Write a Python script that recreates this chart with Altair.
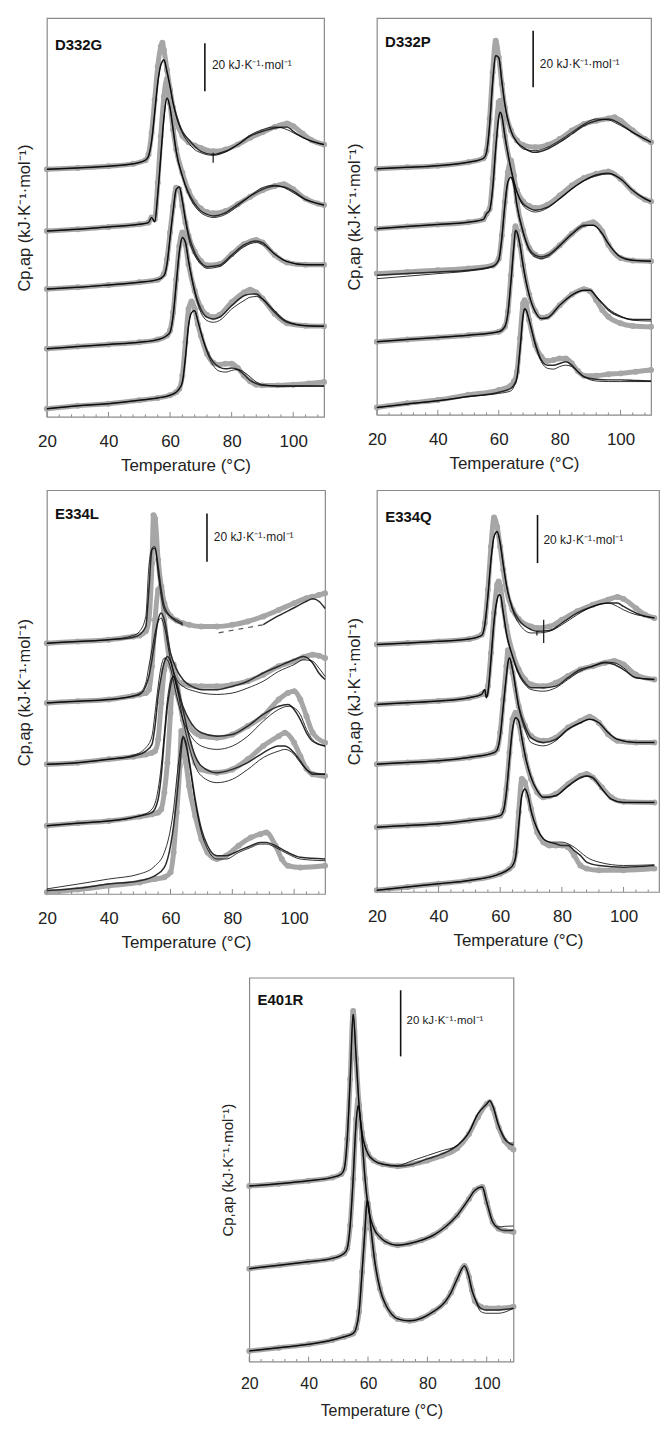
import altair as alt
import pandas as pd

# ---------------- D332G ----------------
D332G_T1 = [20, 30, 40, 48, 52, 53, 54, 55, 56, 57, 57.5, 58, 59, 60, 61, 62, 64, 66, 68, 70, 74, 78, 82, 86, 90, 94, 98, 100, 103, 106, 110]
D332G_E1 = [102.8, 103.4, 104.1, 105.1, 106.6, 109.0, 117.9, 131.7, 145.5, 153.8, 155.4, 152.4, 144.1, 135.9, 128.3, 122.8, 116.8, 114.1, 112.7, 111.7, 110.3, 111.0, 113.1, 115.9, 118.2, 120.4, 121.8, 120.7, 117.7, 114.9, 113.1]
D332G_F1 = [102.8, 103.4, 104.1, 105.1, 106.6, 108.3, 114.5, 126.2, 138.6, 146.2, 147.6, 148.3, 143.4, 137.2, 130.3, 125.5, 118.6, 115.2, 112.4, 110.3, 109.0, 110.3, 113.1, 116.6, 118.6, 120.0, 120.4, 118.6, 116.2, 114.5, 113.1]
D332G_G1 = [102.8, 103.4, 104.1, 105.1, 106.6, 108.3, 114.5, 126.2, 138.6, 146.2, 147.6, 148.3, 143.4, 137.2, 130.3, 124.8, 117.9, 113.8, 111.0, 109.7, 108.6, 110.0, 113.1, 117.0, 119.3, 120.4, 119.3, 118.0, 116.0, 114.5, 113.1]

D332G_T2 = [20, 30, 40, 50, 53, 54, 55, 56, 57, 58, 59, 60, 61, 62, 64, 66, 68, 70, 72, 74, 78, 82, 86, 90, 94, 97, 100, 104, 108, 110]
D332G_E2 = [77.2, 77.9, 78.9, 80.0, 80.7, 82.8, 82.1, 97.2, 116.6, 133.1, 140.3, 130.3, 119.3, 111.0, 101.4, 93.8, 89.2, 86.5, 85.1, 84.6, 85.5, 88.3, 91.4, 94.1, 95.9, 96.6, 94.5, 90.6, 88.6, 88.0]
D332G_F2 = [77.2, 77.9, 78.9, 80.0, 80.7, 82.8, 81.0, 92.4, 108.3, 124.1, 132.4, 128.3, 119.3, 110.3, 100.0, 93.1, 88.6, 85.5, 84.1, 83.4, 84.8, 88.3, 91.7, 94.5, 95.9, 95.5, 93.8, 90.3, 88.6, 88.0]
D332G_G2 = [77.2, 77.9, 78.9, 80.0, 80.7, 82.8, 81.0, 92.4, 108.3, 124.1, 132.4, 128.3, 119.3, 110.3, 100.0, 92.4, 87.6, 84.8, 83.4, 82.8, 84.1, 87.6, 91.7, 95.2, 96.2, 95.2, 93.1, 90.3, 88.6, 88.0]

D332G_T3 = [20, 30, 40, 50, 56, 58, 59, 60, 61, 62, 63, 64, 65, 66, 68, 70, 72, 76, 80, 84, 88, 90, 94, 98, 104, 110]
D332G_E3 = [53.1, 53.8, 54.8, 55.9, 57.0, 59.3, 65.5, 76.6, 87.6, 95.2, 94.5, 87.6, 80.7, 75.2, 68.6, 64.8, 63.0, 63.4, 67.6, 71.7, 73.5, 72.4, 67.2, 64.1, 63.2, 63.2]
D332G_F3 = [53.1, 53.8, 54.8, 55.9, 57.0, 58.6, 63.4, 74.5, 85.5, 94.5, 95.5, 89.7, 82.1, 75.9, 68.3, 64.1, 62.4, 63.0, 67.2, 71.4, 73.1, 72.4, 67.6, 64.5, 63.2, 63.2]
D332G_G3 = [53.1, 53.8, 54.8, 55.9, 57.0, 58.6, 63.4, 74.5, 85.5, 94.5, 95.5, 89.7, 81.4, 74.5, 67.2, 63.4, 61.7, 62.4, 66.5, 70.7, 72.4, 71.7, 67.6, 64.5, 63.2, 63.2]

D332G_T4 = [20, 30, 40, 50, 56, 59, 60, 61, 62, 63, 64, 65, 66, 68, 70, 72, 74, 76, 80, 84, 86, 88, 90, 94, 98, 104, 110]
D332G_E4 = [28.3, 29.2, 30.1, 31.0, 32.1, 33.8, 35.9, 43.4, 57.2, 71.0, 76.6, 71.7, 63.4, 52.4, 45.5, 42.3, 41.4, 42.3, 47.6, 51.7, 52.8, 51.7, 49.2, 42.8, 38.9, 37.9, 37.7]
D332G_F4 = [28.3, 29.2, 30.1, 31.0, 32.1, 33.8, 35.2, 42.1, 55.2, 68.3, 74.5, 72.4, 64.8, 52.4, 44.8, 41.4, 40.7, 41.4, 46.2, 50.3, 51.0, 51.0, 49.0, 43.4, 39.3, 37.9, 37.7]
D332G_G4 = [28.3, 29.2, 30.1, 31.0, 32.1, 33.8, 35.2, 42.1, 55.2, 68.3, 74.5, 72.4, 64.8, 51.7, 43.4, 40.0, 39.3, 40.0, 44.8, 48.3, 49.7, 50.0, 49.0, 44.1, 39.7, 37.9, 37.7]

D332G_T5 = [20, 30, 40, 50, 56, 60, 62, 63, 64, 65, 66, 67, 68, 69, 70, 72, 74, 76, 78, 80, 82, 84, 86, 88, 90, 95, 100, 105, 110]
D332G_E5 = [3.4, 4.6, 5.5, 6.9, 7.9, 9.0, 10.3, 11.7, 17.2, 31.0, 44.8, 47.9, 44.8, 38.6, 33.8, 26.2, 22.5, 21.7, 22.1, 22.1, 20.3, 17.2, 14.8, 13.4, 13.1, 13.1, 13.4, 13.9, 14.5]
D332G_F5 = [3.4, 4.6, 5.5, 6.9, 7.9, 9.0, 10.3, 11.7, 14.5, 24.8, 37.9, 43.4, 44.1, 40.0, 35.2, 27.6, 22.8, 20.7, 20.0, 20.3, 19.7, 17.6, 15.2, 13.8, 13.1, 12.8, 12.8, 12.8, 12.8]
D332G_G5 = [3.4, 4.6, 5.5, 6.9, 7.9, 9.0, 10.3, 11.7, 14.5, 24.8, 37.9, 43.4, 44.1, 40.0, 35.2, 26.9, 21.4, 19.0, 18.6, 19.3, 19.7, 18.6, 16.6, 14.5, 13.4, 12.8, 12.8, 12.8, 12.8]

# ---------------- D332P ----------------
D332P_T1 = [20, 30, 40, 50, 55, 56, 57, 58, 59, 60, 61, 62, 64, 66, 68, 72, 76, 80, 84, 88, 92, 96, 98, 100, 104, 108, 110]
D332P_E1 = [87.1, 87.6, 88.2, 89.4, 90.8, 93.5, 104.7, 121.2, 132.4, 126.5, 117.1, 108.8, 100.6, 97.1, 95.5, 94.7, 95.5, 97.6, 100.6, 102.9, 104.1, 104.9, 105.3, 104.1, 100.6, 97.6, 96.5]
D332P_F1 = [87.1, 87.6, 88.2, 89.4, 90.8, 93.0, 102.4, 117.6, 127.1, 126.5, 118.2, 110.0, 100.6, 96.5, 94.7, 92.9, 94.1, 96.5, 99.4, 102.4, 104.1, 104.7, 104.1, 102.9, 100.0, 97.6, 96.5]
D332P_G1 = [87.1, 87.6, 88.2, 89.4, 90.8, 93.0, 102.4, 117.6, 127.1, 126.5, 118.2, 110.0, 100.6, 96.5, 94.1, 93.5, 94.7, 97.1, 100.0, 102.9, 104.7, 104.4, 103.5, 102.4, 100.0, 97.6, 96.5]

D332P_T2 = [20, 30, 40, 50, 55, 56, 57, 58, 59, 60, 60.5, 61, 62, 64, 66, 68, 70, 72, 76, 80, 84, 88, 92, 96, 100, 104, 108, 110]
D332P_E2 = [65.9, 66.7, 67.4, 68.2, 69.2, 71.2, 72.9, 83.5, 98.8, 110.6, 111.2, 107.1, 98.8, 87.6, 79.4, 75.5, 73.9, 73.2, 74.4, 77.6, 81.2, 83.8, 85.3, 86.1, 83.5, 79.1, 76.2, 75.5]
D332P_F2 = [65.9, 66.7, 67.4, 68.2, 69.2, 71.2, 72.4, 80.0, 94.1, 105.3, 107.1, 105.9, 98.8, 87.1, 78.8, 74.7, 73.2, 72.4, 73.5, 76.5, 80.0, 82.9, 84.7, 85.3, 83.5, 79.4, 76.5, 75.5]
D332P_G2 = [65.9, 66.7, 67.4, 68.2, 69.2, 71.2, 72.4, 80.0, 94.1, 105.3, 107.1, 105.9, 98.8, 87.1, 78.8, 74.1, 72.4, 71.8, 73.2, 76.5, 80.0, 82.9, 85.0, 85.6, 83.5, 79.4, 76.5, 75.5]

D332P_T3 = [20, 30, 40, 50, 58, 60, 61, 62, 63, 64, 65, 66, 68, 70, 72, 74, 76, 80, 84, 88, 91, 94, 96, 100, 104, 110]
D332P_E3 = [50.0, 50.6, 51.2, 51.8, 52.9, 55.3, 63.5, 75.3, 85.9, 90.0, 84.7, 75.3, 65.3, 59.1, 56.7, 55.9, 56.5, 60.0, 64.1, 67.3, 68.2, 64.9, 60.2, 55.5, 54.6, 54.4]
D332P_F3 = [49.4, 50.0, 50.6, 51.2, 52.6, 55.0, 62.4, 74.1, 82.4, 84.1, 81.2, 74.1, 64.7, 58.8, 56.5, 55.9, 56.5, 60.0, 64.1, 67.1, 67.1, 64.1, 60.6, 55.9, 54.7, 54.4]
D332P_G3 = [48.2, 49.1, 50.0, 50.9, 52.4, 54.7, 62.4, 74.1, 82.4, 84.1, 81.2, 74.1, 64.7, 58.2, 55.9, 55.3, 56.0, 59.6, 63.8, 66.8, 67.1, 64.1, 60.6, 55.9, 54.7, 54.4]

D332P_T4 = [20, 30, 40, 50, 60, 62, 63, 64, 65, 65.5, 66, 67, 68, 70, 72, 74, 76, 80, 84, 88, 90, 92, 94, 96, 100, 104, 110]
D332P_E4 = [25.9, 26.7, 27.4, 28.2, 29.4, 31.2, 36.5, 49.4, 63.5, 66.8, 65.3, 60.0, 52.9, 42.6, 36.7, 34.4, 34.7, 38.8, 42.6, 44.5, 43.8, 40.6, 37.1, 34.7, 32.4, 31.5, 31.2]
D332P_F4 = [25.9, 26.7, 27.4, 28.2, 29.4, 31.2, 35.9, 47.1, 60.0, 65.3, 64.7, 60.0, 52.9, 42.4, 36.5, 34.1, 34.4, 38.8, 42.4, 44.1, 44.1, 41.8, 39.4, 37.1, 34.7, 33.8, 33.8]
D332P_G4 = [25.9, 26.7, 27.4, 28.2, 29.4, 31.2, 35.9, 47.1, 60.0, 65.3, 64.7, 60.0, 52.9, 42.4, 36.5, 34.1, 34.4, 38.8, 42.4, 44.1, 44.1, 42.1, 39.7, 37.6, 35.0, 33.5, 33.2]

D332P_T5 = [20, 30, 40, 50, 60, 64, 65, 66, 67, 68, 68.5, 69, 70, 72, 74, 76, 78, 80, 82, 84, 86, 88, 92, 96, 100, 105, 110]
D332P_E5 = [2.6, 4.1, 5.3, 7.1, 8.8, 10.4, 11.8, 15.3, 27.1, 39.4, 40.6, 39.4, 33.5, 24.7, 20.6, 19.1, 19.4, 20.0, 20.0, 18.2, 15.5, 13.9, 13.9, 14.4, 14.7, 15.3, 15.9]
D332P_F5 = [2.6, 3.9, 5.0, 6.5, 8.0, 9.4, 10.6, 13.5, 23.5, 35.3, 37.6, 37.1, 33.5, 25.3, 19.4, 17.6, 17.6, 18.2, 18.8, 17.6, 15.3, 13.5, 12.6, 12.4, 12.4, 12.2, 12.0]
D332P_G5 = [2.6, 3.9, 5.0, 6.5, 7.6, 8.5, 10.0, 13.0, 23.0, 35.0, 37.6, 37.1, 33.5, 24.7, 18.8, 16.5, 16.2, 17.1, 17.6, 17.1, 15.3, 13.5, 12.0, 11.8, 11.8, 11.8, 11.8]

# ---------------- E334L ----------------
E334L_T1 = [20, 30, 40, 48, 50, 52, 53, 54, 54.5, 55, 56, 57, 58, 60, 62, 64, 66, 70, 75, 80, 85, 90, 95, 100, 104, 106, 108, 110]
E334L_E1 = [104.1, 104.8, 105.5, 106.9, 107.3, 109.0, 113.8, 137.2, 157.2, 155.9, 138.6, 127.6, 120.7, 115.4, 113.5, 112.4, 111.7, 111.0, 111.0, 111.7, 113.1, 115.2, 117.9, 120.7, 122.8, 123.4, 124.1, 124.8]
E334L_F1 = [104.1, 104.8, 105.5, 106.6, 107.6, 111.0, 126.2, 142.8, 143.4, 143.4, 135.9, 126.2, 119.3, 115.2, 113.1, 111.8, None, None, None, None, None, 111.8, 115.5, 118.8, 121.5, 122.5, 121.5, 118.5]
E334L_G1 = [104.1, 104.8, 105.5, 107.3, 109.0, 115.2, 135.9, 143.4, 144.1, 144.1, 133.1, 123.4, 117.9, 115.2, 113.8, 112.4, None, None, None, None, None, None, None, None, None, None, None, None]
E334L_DASH_T = [75.6, 90.2]
E334L_DASH_V = [108.4, 111.8]

E334L_T2 = [20, 30, 40, 48, 50, 52, 53, 54, 55, 56, 57, 58, 60, 62, 64, 68, 70, 75, 80, 85, 90, 95, 100, 103, 106, 108, 110]
E334L_E2 = [79.3, 80.0, 80.7, 82.3, 82.8, 83.4, 84.8, 94.5, 113.8, 126.2, 127.6, 113.8, 95.2, 89.2, 87.3, 86.2, 86.2, 86.2, 86.9, 88.3, 91.0, 94.5, 96.6, 98.3, 99.3, 98.9, 97.9]
E334L_F2 = [79.3, 80.0, 80.7, 82.1, 82.8, 86.2, 90.3, 97.2, 105.5, 113.8, 116.6, 113.8, 100.0, 93.1, 89.0, 85.5, 84.8, 84.8, 86.2, 88.3, 91.7, 94.5, 97.2, 98.6, 95.9, 91.7, 89.0]
E334L_G2 = [79.3, 80.0, 80.7, 82.3, 83.4, 87.6, 94.5, 101.4, 108.3, 113.1, 114.5, 111.0, 97.2, 89.0, 86.2, 84.1, 83.4, 82.8, 83.4, 85.5, 88.3, 92.4, 95.2, 97.2, 96.6, 93.8, 90.3]

E334L_T3 = [20, 30, 40, 48, 52, 54, 55, 56, 57, 58, 59, 60, 62, 64, 66, 70, 75, 80, 85, 90, 95, 98, 100, 102, 104, 106, 110]
E334L_E3 = [53.8, 54.5, 55.9, 57.0, 57.9, 58.6, 59.3, 64.1, 79.3, 93.1, 97.2, 94.5, 83.4, 75.2, 69.7, 65.5, 64.8, 66.2, 69.7, 73.8, 80.7, 83.4, 84.1, 80.7, 73.8, 66.9, 62.8]
E334L_F3 = [53.8, 54.5, 55.9, 57.2, 59.3, 62.1, 69.7, 82.1, 90.3, 96.2, 98.6, 96.6, 86.2, 77.9, 72.4, 66.9, 65.5, 66.2, 69.7, 74.5, 77.9, 78.6, 76.6, 72.4, 66.9, 63.4, 61.4]
E334L_G3 = [53.8, 54.5, 55.9, 57.6, 60.7, 65.5, 75.2, 86.2, 94.5, 97.9, 97.2, 93.8, 82.1, 72.4, 66.9, 61.4, 60.0, 61.4, 65.5, 71.7, 76.6, 77.9, 77.2, 74.5, 68.3, 64.1, 61.4]

E334L_T4 = [20, 30, 40, 50, 54, 56, 57, 58, 59, 60, 61, 62, 64, 66, 68, 70, 75, 80, 85, 90, 95, 97, 100, 102, 104, 106, 110]
E334L_E4 = [28.3, 29.4, 30.3, 32.1, 33.1, 33.8, 35.2, 42.1, 54.5, 75.2, 95.2, 88.3, 72.4, 62.8, 54.5, 51.7, 50.3, 51.7, 55.9, 61.4, 65.5, 66.9, 62.8, 57.2, 52.0, 49.7, 49.0]
E334L_F4 = [28.3, 29.4, 30.3, 32.4, 33.8, 39.3, 49.0, 64.1, 77.9, 86.2, 90.3, 87.6, 76.6, 65.5, 57.2, 53.1, 50.3, 51.7, 54.5, 58.6, 61.4, 61.4, 58.6, 55.2, 51.7, 49.7, 49.7]
E334L_G4 = [28.3, 29.4, 30.3, 32.4, 35.2, 43.4, 53.1, 66.9, 80.7, 88.3, 90.3, 86.2, 72.4, 61.4, 53.1, 49.0, 46.2, 47.6, 51.7, 56.6, 59.3, 60.0, 57.9, 54.5, 51.7, 50.3, 49.7]

E334L_T5 = [20, 30, 40, 50, 55, 58, 60, 61, 62, 63, 63.5, 64, 65, 66, 68, 70, 72, 75, 78, 82, 86, 89, 91, 94, 96, 98, 102, 110]
E334L_E5 = [0.7, 1.8, 3.4, 4.8, 6.2, 6.9, 9.0, 17.2, 33.8, 53.1, 67.6, 62.8, 54.5, 44.8, 32.4, 22.8, 17.2, 14.5, 15.9, 20.0, 23.4, 24.8, 25.5, 20.0, 14.5, 11.7, 11.0, 11.7]
E334L_F5 = [1.4, 2.4, 4.1, 5.5, 7.6, 11.0, 20.0, 28.3, 39.3, 53.1, 60.0, 65.5, 62.8, 55.9, 39.3, 26.9, 20.0, 15.9, 15.9, 17.9, 20.0, 21.4, 21.4, 20.0, 18.6, 17.2, 15.2, 14.5]
E334L_G5 = [2.1, 4.1, 6.2, 8.3, 11.7, 17.2, 26.9, 35.2, 47.6, 58.6, 63.0, 64.8, 61.4, 54.5, 37.9, 25.5, 18.6, 14.5, 14.5, 17.2, 19.3, 20.7, 20.7, 19.3, 17.9, 16.6, 14.5, 13.8]

# ---------------- E334Q ----------------
E334Q_T1 = [20, 30, 40, 50, 54, 55, 56, 57, 58, 59, 60, 61, 62, 64, 66, 70, 72, 76, 80, 85, 90, 95, 98, 100, 104, 107, 110]
E334Q_E1 = [102.8, 103.4, 104.1, 105.1, 106.9, 111.7, 125.5, 143.4, 155.6, 151.7, 143.4, 133.8, 125.5, 117.2, 113.4, 110.3, 109.7, 110.3, 113.1, 116.6, 119.3, 121.4, 122.5, 121.7, 117.9, 115.2, 113.8]
E334Q_F1 = [102.8, 103.4, 104.1, 105.1, 106.6, 111.0, 122.8, 137.9, 147.6, 149.7, 144.8, 135.9, 127.6, 117.9, 113.1, 109.0, 108.3, 108.6, 111.7, 115.9, 118.6, 120.0, 120.0, 118.6, 115.9, 114.5, 113.8]
E334Q_G1 = [102.8, 103.4, 104.1, 105.1, 106.6, 111.0, 122.8, 137.9, 147.6, 149.7, 144.8, 135.9, 127.6, 117.2, 111.7, 107.6, 107.6, 108.3, 111.0, 115.2, 118.6, 120.0, 118.6, 117.2, 115.2, 114.5, 113.8]

E334Q_T2 = [20, 30, 40, 50, 54, 55, 55.5, 56, 57, 58, 59, 59.5, 60, 61, 62, 64, 66, 68, 70, 74, 78, 82, 86, 90, 94, 97, 100, 104, 110]
E334Q_E2 = [77.9, 78.6, 79.3, 80.7, 82.1, 83.0, 82.1, 85.5, 99.3, 115.9, 127.6, 129.0, 126.9, 118.6, 110.3, 99.3, 92.4, 88.3, 86.2, 85.5, 86.9, 89.7, 92.4, 93.8, 95.2, 95.9, 94.5, 90.3, 88.3]
E334Q_F2 = [77.9, 78.6, 79.3, 80.7, 82.1, 84.1, 80.7, 82.8, 96.6, 112.4, 121.4, 123.4, 123.4, 115.9, 107.6, 97.9, 91.0, 86.9, 84.8, 84.8, 85.5, 89.0, 92.4, 93.8, 95.2, 94.5, 92.4, 89.0, 88.3]
E334Q_G2 = [77.9, 78.6, 79.3, 80.7, 82.1, 84.1, 80.7, 82.8, 96.6, 112.4, 121.4, 123.4, 123.4, 115.9, 107.6, 97.9, 90.3, 86.2, 84.1, 83.4, 84.8, 88.3, 91.7, 93.8, 95.5, 95.2, 93.1, 89.0, 88.3]

E334Q_T3 = [20, 30, 40, 50, 58, 59, 60, 61, 62, 62.5, 63, 64, 66, 68, 70, 74, 78, 82, 86, 89, 92, 95, 98, 104, 110]
E334Q_E3 = [53.1, 53.8, 54.5, 55.9, 57.9, 59.3, 66.2, 80.0, 93.8, 100.4, 97.9, 91.0, 77.2, 69.0, 64.8, 62.8, 64.1, 68.3, 71.0, 72.8, 70.3, 65.5, 62.8, 62.1, 62.1]
E334Q_F3 = [53.1, 53.8, 54.5, 55.9, 57.9, 59.0, 64.8, 77.2, 89.7, 95.2, 97.2, 92.4, 77.2, 69.0, 64.1, 62.1, 63.4, 67.6, 70.3, 71.7, 70.3, 66.2, 63.4, 62.1, 62.1]
E334Q_G3 = [53.1, 53.8, 54.5, 55.9, 57.9, 59.0, 64.8, 77.2, 89.7, 95.2, 97.2, 92.4, 76.6, 67.6, 62.1, 60.7, 62.8, 67.6, 70.3, 71.7, 70.3, 66.2, 63.4, 62.1, 62.1]

E334Q_T4 = [20, 30, 40, 50, 60, 61, 62, 63, 64, 65, 66, 67, 68, 70, 72, 74, 78, 82, 86, 88, 90, 93, 96, 100, 110]
E334Q_E4 = [26.9, 27.6, 28.3, 29.7, 31.7, 33.8, 42.8, 57.9, 71.7, 74.5, 70.3, 63.4, 56.6, 46.9, 41.4, 39.3, 40.7, 44.8, 48.3, 49.0, 47.6, 43.4, 39.3, 37.5, 37.2]
E334Q_F4 = [26.9, 27.6, 28.3, 29.7, 31.7, 33.5, 41.4, 55.2, 67.6, 72.4, 71.0, 64.1, 57.2, 47.6, 42.1, 39.3, 40.0, 44.1, 47.6, 48.3, 47.6, 42.8, 38.6, 37.2, 37.2]
E334Q_G4 = [26.9, 27.6, 28.3, 29.7, 31.7, 33.5, 41.4, 55.2, 67.6, 72.4, 71.0, 64.1, 57.2, 47.6, 42.1, 39.3, 40.0, 43.8, 47.2, 48.0, 47.2, 42.8, 38.6, 37.2, 37.2]

E334Q_T5 = [20, 30, 40, 50, 60, 63, 64, 65, 66, 67, 68, 69, 70, 72, 74, 76, 78, 80, 82, 84, 86, 88, 92, 100, 110]
E334Q_E5 = [0.7, 2.1, 3.4, 4.8, 7.6, 9.7, 11.0, 16.6, 33.1, 46.9, 45.5, 40.0, 34.5, 24.8, 20.7, 19.3, 19.3, 19.3, 18.6, 15.2, 11.0, 9.7, 9.0, 9.0, 9.7]
E334Q_F5 = [0.7, 2.1, 3.4, 4.8, 7.6, 9.7, 11.0, 14.5, 27.6, 40.0, 42.8, 40.0, 33.8, 26.2, 22.1, 20.7, 20.0, 19.3, 19.3, 17.2, 15.2, 12.4, 11.0, 10.3, 11.0]
E334Q_G5 = [0.7, 2.1, 3.4, 4.8, 7.6, 9.7, 11.0, 14.5, 27.6, 40.0, 42.8, 40.0, 33.8, 26.2, 22.1, 20.7, 20.7, 20.7, 20.0, 18.6, 16.6, 14.5, 12.4, 11.0, 11.3]

# ---------------- E401R ----------------
E401R_T1 = [20, 30, 40, 48, 51, 52, 53, 54, 55, 56, 57, 58, 59, 60, 62, 65, 70, 75, 80, 85, 90, 94, 97, 100, 101, 102, 104, 106, 108, 109]
E401R_E1 = [53.1, 53.8, 54.7, 55.7, 56.7, 58.3, 67.3, 85.4, 106.0, 91.5, 77.4, 69.1, 65.1, 62.8, 60.8, 59.7, 59.1, 59.7, 60.8, 62.3, 64.5, 68.8, 73.9, 77.9, 78.4, 76.6, 70.9, 66.8, 64.8, 64.1]
E401R_F1 = [53.1, 53.8, 54.7, 55.7, 56.7, 58.3, 67.3, 85.4, 105.0, 92.0, 77.4, 69.1, 65.1, 62.8, 60.8, 59.7, 59.1, 59.7, 61.3, 62.8, 65.3, 69.3, 74.9, 77.9, 78.9, 77.4, 71.4, 67.3, 65.8, 65.5]
E401R_G1 = [53.1, 53.8, 54.7, 55.7, 56.7, 58.3, 67.3, 85.4, 105.0, 92.0, 77.4, 69.1, 65.1, 62.8, 60.8, 59.7, 59.3, 60.8, 62.3, 63.8, 65.3, 69.3, 74.9, 77.9, 78.9, 77.4, 71.4, 67.8, 66.1, 66.1]

E401R_T2 = [20, 30, 40, 48, 52, 53, 54, 55, 56, 56.7, 57, 58, 59, 60, 62, 64, 66, 70, 74, 78, 82, 86, 90, 94, 96, 98.5, 100, 102, 104, 106, 109]
E401R_E2 = [28.1, 29.1, 30.2, 31.2, 32.7, 34.2, 41.2, 55.3, 73.4, 79.4, 77.4, 67.3, 55.3, 47.2, 40.2, 37.7, 36.2, 35.2, 35.7, 36.7, 38.2, 40.7, 44.2, 49.2, 51.8, 52.8, 48.2, 42.2, 40.2, 39.6, 39.2]
E401R_F2 = [28.1, 29.1, 30.2, 31.2, 32.7, 34.2, 41.2, 55.3, 72.4, 77.4, 76.4, 67.3, 55.3, 47.2, 40.2, 37.7, 36.2, 35.2, 35.7, 36.7, 38.2, 40.7, 44.2, 49.2, 51.8, 52.8, 48.2, 42.2, 40.2, 39.6, 39.7]
E401R_G2 = [28.1, 29.1, 30.2, 31.2, 32.7, 34.2, 41.2, 55.3, 72.4, 77.4, 76.4, 67.3, 55.3, 47.2, 40.2, 37.7, 36.2, 35.2, 35.7, 36.7, 38.2, 40.7, 44.2, 49.2, 51.8, 52.8, 48.2, 42.2, 40.7, 40.9, 41.0]

E401R_T3 = [20, 30, 40, 48, 52, 55, 56, 57, 58, 59, 59.7, 60, 61, 62, 64, 66, 68, 70, 74, 78, 82, 86, 88, 90, 92.5, 94, 95, 96, 98, 100, 104, 109]
E401R_E3 = [3.2, 4.2, 5.2, 6.5, 7.5, 8.5, 10.1, 15.1, 27.1, 40.2, 48.2, 47.7, 40.2, 32.2, 22.1, 17.1, 14.3, 12.9, 12.3, 13.1, 15.1, 18.1, 20.9, 24.9, 28.9, 25.6, 21.6, 18.3, 16.6, 16.1, 16.1, 16.6]
E401R_F3 = [3.2, 4.2, 5.2, 6.5, 7.5, 8.5, 10.1, 15.1, 27.1, 40.2, 48.7, 48.2, 40.2, 32.2, 22.1, 17.1, 14.3, 12.9, 12.3, 13.1, 15.1, 18.1, 20.9, 24.9, 28.9, 25.6, 21.6, 19.1, 16.1, 15.6, 15.6, 16.1]
E401R_G3 = [3.2, 4.2, 5.2, 6.5, 7.5, 8.5, 10.1, 15.1, 27.1, 40.2, 48.7, 48.2, 40.2, 32.2, 22.1, 17.1, 14.3, 12.9, 12.3, 13.1, 15.1, 18.1, 20.9, 24.9, 28.9, 25.6, 21.6, 19.1, 15.1, 14.6, 14.6, 16.1]

# axis ticks (inward) and text
MAJOR_TICKS = [20, 40, 60, 80, 100]
MINOR_TICKS = [24, 28, 32, 36, 44, 48, 52, 56, 64, 68, 72, 76, 84, 88, 92, 96, 104, 108]
UNIT = "kJ·K⁻¹·mol⁻¹"
YTITLE = "Cp,ap (" + UNIT + ")"
XTITLE = "Temperature (°C)"
BAR_TEXT = "20 " + UNIT

GRAY = "#a6a6a6"
FRAME = "#8a8a8a"
FONT = "Liberation Sans"

PANELS = {
    "D332G": dict(traces=[(D332G_T1, D332G_E1, D332G_F1, D332G_G1), (D332G_T2, D332G_E2, D332G_F2, D332G_G2),
                          (D332G_T3, D332G_E3, D332G_F3, D332G_G3), (D332G_T4, D332G_E4, D332G_F4, D332G_G4),
                          (D332G_T5, D332G_E5, D332G_F5, D332G_G5)],
                  xmax=110, ymax=165.6, w=278, h=400, bar=(71.3, 135.2, 155.2), lab=(73.6, 146.2), name=(22.6, 154.5),
                  marks=[(74.0, 105.5, 109.7)], dash=None, big=True),
    "D332P": dict(traces=[(D332P_T1, D332P_E1, D332P_F1, D332P_G1), (D332P_T2, D332P_E2, D332P_F2, D332P_G2),
                          (D332P_T3, D332P_E3, D332P_F3, D332P_G3), (D332P_T4, D332P_E4, D332P_F4, D332P_G4),
                          (D332P_T5, D332P_E5, D332P_F5, D332P_G5)],
                  xmax=110, ymax=140.4, w=275, h=398, bar=(71.3, 115.9, 135.9), lab=(73.5, 124.1), name=(22.7, 131.8),
                  marks=[], dash=None, big=True),
    "E334L": dict(traces=[(E334L_T1, E334L_E1, E334L_F1, E334L_G1), (E334L_T2, E334L_E2, E334L_F2, E334L_G2),
                          (E334L_T3, E334L_E3, E334L_F3, E334L_G3), (E334L_T4, E334L_E4, E334L_F4, E334L_G4),
                          (E334L_T5, E334L_E5, E334L_F5, E334L_G5)],
                  xmax=110, ymax=167.6, w=279, h=405, bar=(71.8, 137.9, 157.9), lab=(74.0, 148.3), name=(22.6, 157.9),
                  marks=[], dash=(E334L_DASH_T, E334L_DASH_V), big=True),
    "E334Q": dict(traces=[(E334Q_T1, E334Q_E1, E334Q_F1, E334Q_G1), (E334Q_T2, E334Q_E2, E334Q_F2, E334Q_G2),
                          (E334Q_T3, E334Q_E3, E334Q_F3, E334Q_G3), (E334Q_T4, E334Q_E4, E334Q_F4, E334Q_G4),
                          (E334Q_T5, E334Q_E5, E334Q_F5, E334Q_G5)],
                  xmax=111.5, ymax=166.9, w=283, h=403, bar=(72.1, 136.6, 156.6), lab=(74.0, 146.2), name=(22.7, 155.9),
                  marks=[(74.1, 103.4, 113.1), (71.9, 106.5, 108.3)], dash=None, big=True),
    "E401R": dict(traces=[(E401R_T1, E401R_E1, E401R_F1, E401R_G1), (E401R_T2, E401R_E2, E401R_F2, E401R_G2),
                          (E401R_T3, E401R_E3, E401R_F3, E401R_G3)],
                  xmax=109, ymax=116.1, w=265, h=385, bar=(71.0, 92.3, 112.3), lab=(73.0, 103.0), name=(22.8, 109.3),
                  marks=[], dash=None, big=False),
}


def make_panel(name):
    p = PANELS[name]
    w, h = p["w"], p["h"]
    exp_rows, fit_rows = [], []
    for k, (Ts, Es, Fs, Gs) in enumerate(p["traces"]):
        for t, e in zip(Ts, Es):
            exp_rows.append({"T": t, "v": e, "g": str(k)})
        for sname, arr in (("fit", Fs), ("thin", Gs)):
            seg, gap = 0, True
            for t, v in zip(Ts, arr):
                if v is None:
                    gap = True
                    continue
                if gap:
                    seg += 1
                    gap = False
                fit_rows.append({"T": t, "v": v, "s": sname, "g": f"{k}-{sname}-{seg}"})
    exp_df = pd.DataFrame(exp_rows)
    fit_df = pd.DataFrame(fit_rows)

    big = p["big"]
    xs = alt.Scale(domain=[20, p["xmax"]], nice=False, zero=False)
    ys = alt.Scale(domain=[0, p["ymax"]], nice=False, zero=False)
    xaxis = alt.Axis(values=MAJOR_TICKS, title=XTITLE, ticks=False, tickSize=0, domain=False, grid=False,
                     labelFontSize=17 if big else 16, titleFontSize=17 if big else 16,
                     labelPadding=17 if big else 14, titlePadding=8 if big else 11,
                     titleFontWeight="normal", labelColor="#222", titleColor="#222", labelFlush=False)
    yaxis = alt.Axis(title=YTITLE, labels=False, ticks=False, tickSize=0, domain=False, grid=False,
                     titleFontSize=16.5 if big else 15, titlePadding=14, titleFontWeight="normal", titleColor="#222")
    X = alt.X("T:Q", scale=xs, axis=xaxis)
    Y = alt.Y("v:Q", scale=ys, axis=yaxis)

    layers = []
    layers.append(alt.Chart(exp_df).mark_line(color=GRAY, strokeWidth=5, interpolate="monotone",
                                              strokeCap="round", strokeJoin="round").encode(X, Y, detail="g:N"))
    layers.append(alt.Chart(exp_df).mark_circle(color=GRAY, size=36, opacity=1).encode(X, Y))
    layers.append(alt.Chart(pd.DataFrame({"T": MAJOR_TICKS})).mark_rule(color=FRAME, strokeWidth=1)
                  .encode(X, y=alt.value(h), y2=alt.value(h - 5)))
    layers.append(alt.Chart(pd.DataFrame({"T": MINOR_TICKS})).mark_rule(color=FRAME, strokeWidth=1)
                  .encode(X, y=alt.value(h), y2=alt.value(h - 2.5)))
    layers.append(alt.Chart(fit_df[fit_df.s == "fit"]).mark_line(color="#2a2a2a", strokeWidth=1.5,
                                                                  interpolate="monotone").encode(X, Y, detail="g:N"))
    layers.append(alt.Chart(fit_df[fit_df.s == "thin"]).mark_line(color="#000000", strokeWidth=0.8,
                                                                   interpolate="monotone").encode(X, Y, detail="g:N"))
    if p["dash"] is not None:
        dT, dV = p["dash"]
        layers.append(alt.Chart(pd.DataFrame({"T": dT, "v": dV})).mark_line(color="#555555", strokeWidth=1.2,
                                                                           strokeDash=[5, 5]).encode(X, Y))
    if p["marks"]:
        mdf = pd.DataFrame({"T": [m[0] for m in p["marks"]], "v": [m[1] for m in p["marks"]],
                            "v2": [m[2] for m in p["marks"]]})
        layers.append(alt.Chart(mdf).mark_rule(color="#111111", strokeWidth=1.2).encode(X, Y, y2="v2:Q"))
    bt, b1, b2 = p["bar"]
    layers.append(alt.Chart(pd.DataFrame({"T": [bt], "v": [b1], "v2": [b2]}))
                  .mark_rule(color="#111111", strokeWidth=1.6).encode(X, Y, y2="v2:Q"))
    lt, lv = p["lab"]
    layers.append(alt.Chart(pd.DataFrame({"T": [lt], "v": [lv]}))
                  .mark_text(text=BAR_TEXT, align="left", baseline="middle", fontSize=12 if big else 11.5,
                             color="#222222").encode(X, Y))
    nt, nv = p["name"]
    layers.append(alt.Chart(pd.DataFrame({"T": [nt], "v": [nv]}))
                  .mark_text(text=name, align="left", baseline="middle", fontSize=15, fontWeight="bold",
                             color="#111111").encode(X, Y))
    return alt.layer(*layers).properties(width=w, height=h,
                                          view=alt.ViewBackground(stroke=FRAME, strokeWidth=1.2))


p1 = make_panel("D332G")
p2 = make_panel("D332P")
p3 = make_panel("E334L")
p4 = make_panel("E334Q")
p5 = make_panel("E401R")

spacer = alt.Chart(pd.DataFrame({"T": [0]})).mark_point(opacity=0).properties(width=173, height=5)

row1 = alt.hconcat(p1, p2, spacing=18)
row2 = alt.hconcat(p3, p4, spacing=17)
row3 = alt.hconcat(spacer, p5, spacing=0)
top = alt.vconcat(row1, row2, spacing=14.5)
chart = (alt.vconcat(top, row3, spacing=24.5)
         .properties(padding={"left": 8, "top": 7, "right": 4, "bottom": 4})
         .configure(font=FONT)
         .configure_view(stroke="transparent"))

chart.save("out.html", embed_options={"renderer": "svg", "actions": False})
